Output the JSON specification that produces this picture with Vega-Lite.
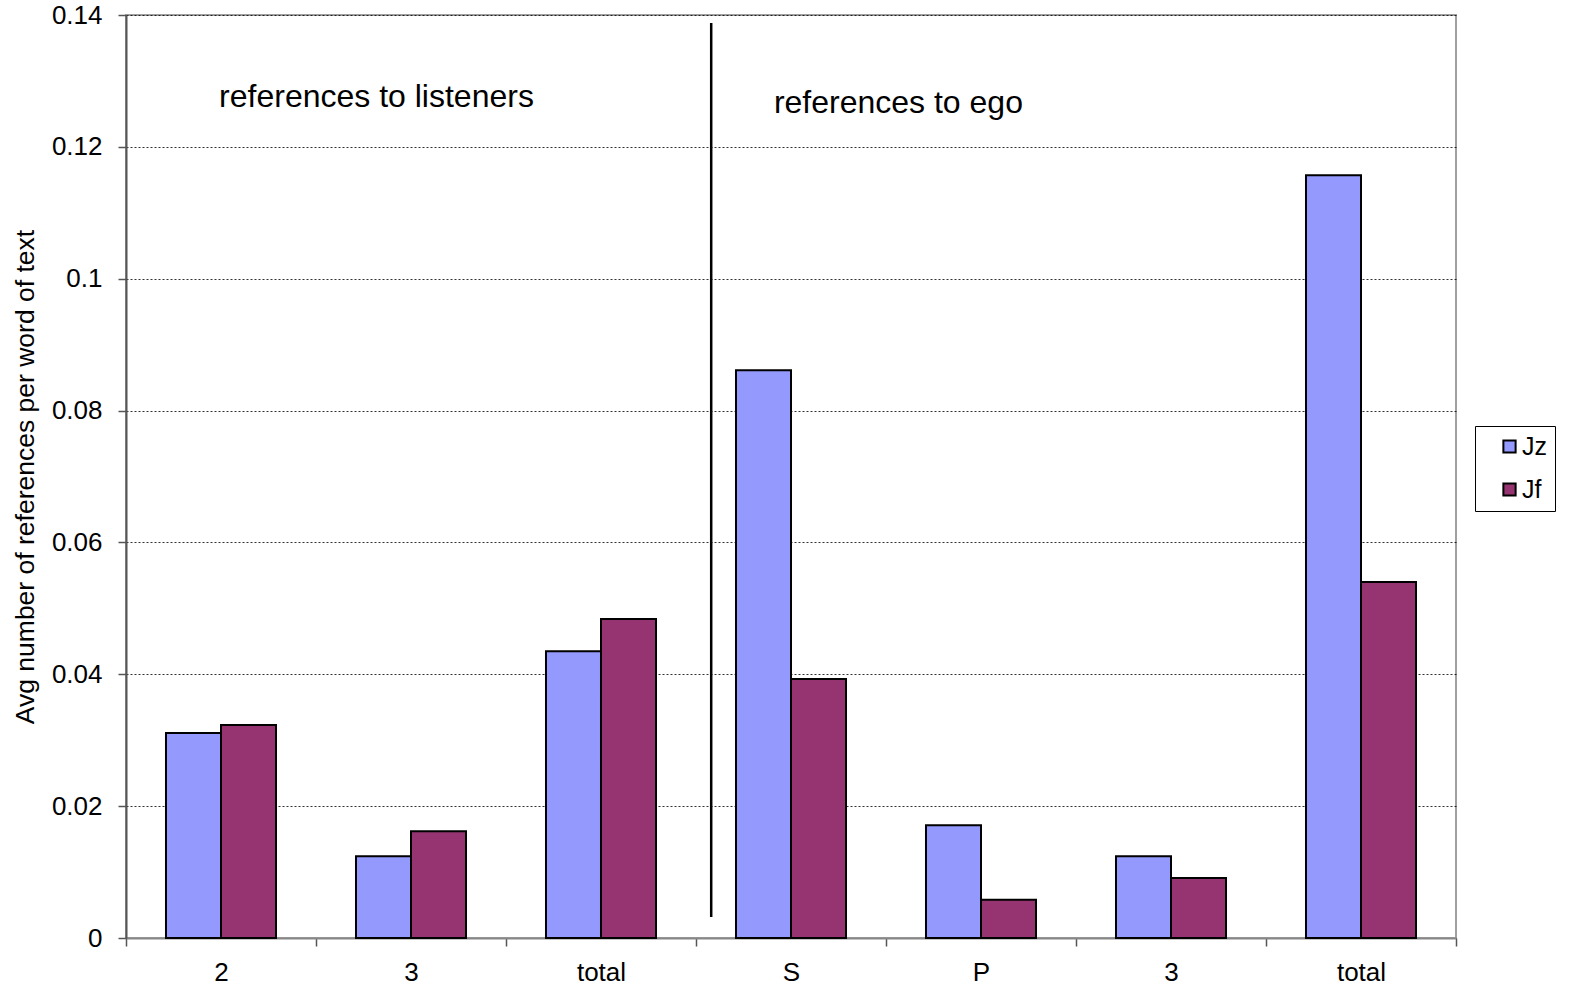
{
  "$schema": "https://vega.github.io/schema/vega-lite/v6.json",
  "autosize": {"type": "none"},
  "width": 1330,
  "height": 923,
  "padding": {"left": 126, "top": 15, "right": 114, "bottom": 51},
  "background": "white",
  "config": {
    "font": "Liberation Sans",
    "view": {"stroke": "#a0a0a0", "strokeWidth": 2}
  },
  "datasets": {
    "bars": [
      {"cat": "2_a", "series": "Jz", "value": 0.0311},
      {"cat": "2_a", "series": "Jf", "value": 0.0323},
      {"cat": "3_a", "series": "Jz", "value": 0.0124},
      {"cat": "3_a", "series": "Jf", "value": 0.0162},
      {"cat": "total_a", "series": "Jz", "value": 0.0435},
      {"cat": "total_a", "series": "Jf", "value": 0.0484},
      {"cat": "S_b", "series": "Jz", "value": 0.0861},
      {"cat": "S_b", "series": "Jf", "value": 0.0393},
      {"cat": "P_b", "series": "Jz", "value": 0.0171},
      {"cat": "P_b", "series": "Jf", "value": 0.0058},
      {"cat": "3_b", "series": "Jz", "value": 0.0124},
      {"cat": "3_b", "series": "Jf", "value": 0.0091},
      {"cat": "total_b", "series": "Jz", "value": 0.1157},
      {"cat": "total_b", "series": "Jf", "value": 0.0540}
    ],
    "notes": [
      {"cat": "2_a", "y": 0.1276, "label": "references to listeners"}
    ],
    "notes2": [
      {"cat": "S_b", "y": 0.1266, "label": "references to ego"}
    ],
    "divider": [
      {"cat": "S_b", "y0": 0.0032, "y1": 0.1388}
    ]
  },
  "layer": [
    {
      "data": {"name": "bars"},
      "mark": {"type": "bar", "stroke": "black", "strokeWidth": 2},
      "encoding": {
        "x": {
          "field": "cat", "type": "nominal", "sort": null,
          "scale": {"domain": ["2_a", "3_a", "total_a", "S_b", "P_b", "3_b", "total_b"], "paddingInner": 0, "paddingOuter": 0},
          "axis": {
            "title": null,
            "labelExpr": "isString(datum.value) ? split(datum.value, '_')[0] : ''",
            "labelAngle": 0,
            "labelFontSize": 26,
            "labelColor": "black",
            "labelPadding": 13,
            "tickBand": "extent",
            "tickSize": 8,
            "tickColor": "#555",
            "tickWidth": 1.5,
            "domainColor": "#888",
            "domainWidth": 2
          }
        },
        "xOffset": {
          "field": "series", "type": "nominal",
          "sort": ["Jz", "Jf"],
          "scale": {"paddingInner": 0, "paddingOuter": 0.727}
        },
        "y": {
          "field": "value", "type": "quantitative",
          "scale": {"domain": [0, 0.14], "nice": false},
          "axis": {
            "title": "Avg number of references per word of text",
            "titleFontSize": 26.5,
            "titleFontWeight": "normal",
            "titleColor": "black",
            "titlePadding": 12,
            "values": [0, 0.02, 0.04, 0.06, 0.08, 0.1, 0.12, 0.14],
            "format": "~g",
            "labelFontSize": 26,
            "labelColor": "black",
            "labelPadding": 16,
            "tickSize": 8,
            "tickColor": "#555",
            "tickWidth": 1.5,
            "domainColor": "#555",
            "domainWidth": 2,
            "grid": true,
            "gridColor": "black",
            "gridDash": [2, 2],
            "gridWidth": 1,
            "gridOpacity": 0.8
          }
        },
        "color": {
          "field": "series", "type": "nominal",
          "scale": {"domain": ["Jz", "Jf"], "range": ["#9499fe", "#953470"]},
          "legend": {
            "title": null,
            "orient": "none",
            "legendX": 1349,
            "legendY": 411,
            "symbolType": "square",
            "symbolSize": 150,
            "symbolStrokeColor": "black",
            "symbolStrokeWidth": 2,
            "symbolOpacity": 1,
            "symbolOffset": 14,
            "labelFontSize": 25,
            "labelColor": "black",
            "labelOffset": 0,
            "rowPadding": 17,
            "padding": 8,
            "strokeColor": "black",
            "fillColor": "white"
          }
        }
      }
    },
    {
      "data": {"name": "divider"},
      "mark": {"type": "rule", "color": "black", "strokeWidth": 2.5},
      "encoding": {
        "x": {"field": "cat", "type": "nominal", "bandPosition": 0.08},
        "y": {"field": "y0", "type": "quantitative"},
        "y2": {"field": "y1"}
      }
    },
    {
      "data": {"name": "notes"},
      "mark": {"type": "text", "align": "left", "baseline": "middle", "fontSize": 32, "color": "black"},
      "encoding": {
        "x": {"field": "cat", "type": "nominal", "bandPosition": 0.49},
        "y": {"field": "y", "type": "quantitative"},
        "text": {"field": "label"}
      }
    },
    {
      "data": {"name": "notes2"},
      "mark": {"type": "text", "align": "left", "baseline": "middle", "fontSize": 32, "color": "black"},
      "encoding": {
        "x": {"field": "cat", "type": "nominal", "bandPosition": 0.41},
        "y": {"field": "y", "type": "quantitative"},
        "text": {"field": "label"}
      }
    }
  ]
}
